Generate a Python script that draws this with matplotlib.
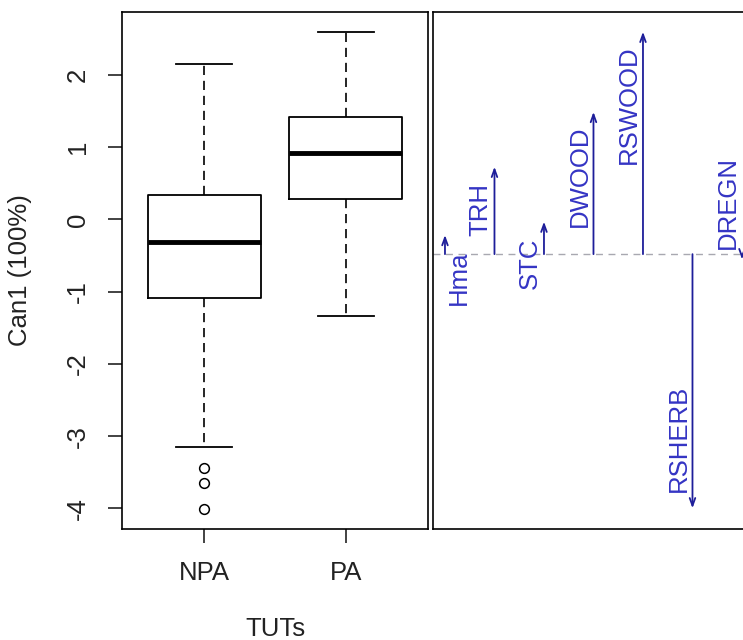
import matplotlib
matplotlib.use("Agg")
import matplotlib.pyplot as plt

plt.rcParams['font.family'] = ['Liberation Sans', 'DejaVu Sans']

# boxplot summary
groups = ['NPA', 'PA']
q1 = [-1.09, 0.29]
med = [-0.31, 0.92]
q3 = [0.335, 1.42]
whislo = [-3.15, -1.34]
whishi = [2.16, 2.60]
fliers = [[-3.44, -3.65, -4.01], []]

# canonical structure arrows
variables = ['Hma', 'TRH', 'STC', 'DWOOD', 'RSWOOD', 'RSHERB', 'DREGN']
tips = [-0.215, 0.73, -0.03, 1.49, 2.60, -4.0, -0.55]
label_y = [-0.80, 0.145, -0.61, 0.596, 1.586, -3.03, 0.229]
baseline = -0.48

W, H = 743, 640
FS = 18.5
fig = plt.figure(figsize=(W / 100, H / 100), dpi=100)

ax = fig.add_axes([122 / W, (H - 529) / H, (428 - 122) / W, (529 - 12) / H])
stats = []
for i, g in enumerate(groups):
    stats.append(dict(label=g, q1=q1[i], med=med[i], q3=q3[i],
                      whislo=whislo[i], whishi=whishi[i], fliers=fliers[i]))
ax.bxp(stats, positions=[1, 2], widths=0.8, patch_artist=False,
       boxprops=dict(color='black', lw=1.3),
       medianprops=dict(color='black', lw=3.5, solid_capstyle='butt'),
       whiskerprops=dict(color='black', lw=1.2, linestyle=(0, (5.5, 3.5))),
       capprops=dict(color='black', lw=1.3),
       capwidths=0.4,
       flierprops=dict(marker='o', markerfacecolor='none', markeredgecolor='black',
                       markersize=7, markeredgewidth=1.1))
ax.set_xlim(0.42, 2.58)
ax.set_ylim(-4.287, 2.874)
ax.set_yticks([-4, -3, -2, -1, 0, 1, 2])
ax.set_yticklabels(['-4', '-3', '-2', '-1', '0', '1', '2'])
ax.set_xticks([1, 2])
ax.set_xticklabels(groups)
ax.tick_params(length=10, width=1.2, pad=13, labelsize=FS, colors='#222222')
plt.setp(ax.get_yticklabels(), rotation=90, va='center')
for s in ax.spines.values():
    s.set_linewidth(1.2)

fig.text(20 / W, 1 - 270 / H, 'Can1 (100%)', rotation=90, ha='center', va='center',
         fontsize=FS, color='#222222')
fig.text(275 / W, 1 - 629 / H, 'TUTs', ha='center', va='center', fontsize=FS, color='#222222')

# right panel
ax2 = fig.add_axes([432.7 / W, (H - 529) / H, (760 - 432.7) / W, (529 - 12) / H])
ax2.set_ylim(-4.287, 2.874)
ax2.set_xlim(-0.248, 6.364)
ax2.set_xticks([])
ax2.set_yticks([])
for s in ax2.spines.values():
    s.set_linewidth(1.2)
ax2.axhline(baseline, color='#A8A8B0', lw=1.0, linestyle=(0, (5, 4)))
for i, (v, t, ly) in enumerate(zip(variables, tips, label_y)):
    ax2.annotate('', xy=(i, t), xytext=(i, baseline),
                 arrowprops=dict(arrowstyle='->, head_length=0.55, head_width=0.2',
                                 color='#1E1E9A', lw=1.3, shrinkA=0, shrinkB=0,
                                 mutation_scale=10))
    dx = 0.283 if i == 0 else -0.283
    ax2.text(i + dx, ly, v, rotation=90, ha='center', va='center',
             fontsize=FS, color='#3434C4')

fig.savefig('out.png', dpi=100)
